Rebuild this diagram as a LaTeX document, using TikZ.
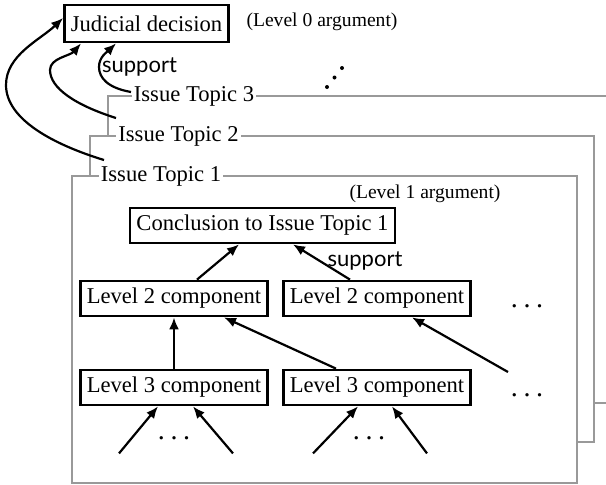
\documentclass[tikz,border=0pt]{standalone}
\usepackage{fontspec}
\setmainfont{Liberation Serif}
\newfontfamily\labelfont{Lato}
\usetikzlibrary{arrows.meta,calc}

\begin{document}
\begin{tikzpicture}[x=0.5pt,y=-0.5pt,
  box/.style={draw,line width=1.4pt,inner xsep=3.2pt,minimum height=17.5pt,font=\fontsize{11.3}{13}\selectfont},
  topic/.style={fill=white,inner sep=1pt,font=\fontsize{11.3}{13}\selectfont},
  issueframe/.style={draw=black!40,fill=white,line width=1pt},
  levelnote/.style={font=\fontsize{9.8}{12}\selectfont},
  supportlbl/.style={font=\labelfont\fontsize{11}{13}\selectfont},
  dotrow/.style={anchor=base,inner sep=0pt,font=\fontsize{14}{16}\selectfont},
  arr/.style={-{Latex[length=6pt,width=5pt]},line width=1.1pt}]
\useasboundingbox (0,0) rectangle (606,484);

% the issue frames, back to front
\draw[issueframe] (108,96) rectangle (614,403);
\draw[issueframe] (90,136) rectangle (594,442);
\draw[issueframe] (72,176) rectangle (577,483);
\node[topic] (topic3) at (194,96) {Issue Topic 3};
\node[topic] (topic2) at (178.5,136) {Issue Topic 2};
\node[topic] (topic1) at (161,176) {Issue Topic 1};

% level 0
\node[box,minimum height=18.5pt] (judicial) at (146.5,23.5) {Judicial decision};
\node[levelnote] (level0) at (322,22) {(Level 0 argument)};
\foreach \x/\y in {327/87,334.5/77.5,342/68} \fill (\x,\y) circle[radius=2];

\coordinate (from1) at (104,160);
\coordinate (from2) at (116,118);
\coordinate (from3) at (131,92);
\draw[arr] (from1) .. controls (55,145) and (6,120) .. (6,85) .. controls (6,55) and (40,40) .. ($(judicial.west)+(0,-5.5)$);
\draw[arr] (from2) .. controls (75,105) and (50,88) .. (50,70) .. controls (50,58) and (70,56) .. ($(judicial.south)+(-65.5,0)$);
\draw[arr] (from3) .. controls (108,88) and (99,78) .. (99,67) .. controls (99,57) and (107,52) .. ($(judicial.south)+(-30.5,0)$);
\node[supportlbl] (support0) at (139.5,67) {support};

% level 1 argument
\node[levelnote] (level1) at (425,194) {(Level 1 argument)};
\node[box] (concl) at (262.5,225.5) {Conclusion to Issue Topic 1};
\node[box] (comp2a) at (174,298.5) {Level 2 component};
\node[box] (comp2b) at (377,298.5) {Level 2 component};
\node[box] (comp3a) at (174,387.5) {Level 3 component};
\node[box] (comp3b) at (377,387.5) {Level 3 component};
\node[dotrow] (more2) at (527,307) {.\kern2.8pt.\kern2.8pt.};
\node[dotrow] (more3) at (527,396) {.\kern2.8pt.\kern2.8pt.};
\node[dotrow] (more4a) at (174,439) {.\kern2.8pt.\kern2.8pt.};
\node[dotrow] (more4b) at (369,439) {.\kern2.8pt.\kern2.8pt.};

\draw[arr] ($(comp2a.north)+(23,0)$) -- ($(concl.south)+(-23.5,0)$);
\draw[arr] ($(comp2b.north)+(-27,0)$) -- ($(concl.south)+(30.5,0)$);
\node[supportlbl] (support1) at (365,261) {support};
\draw[arr] (comp3a) -- (comp2a);
\draw[arr] ($(comp3b.north)+(-41,0)$) -- ($(comp2a.south)+(50,0)$);
\coordinate (from2b) at (508,372);
\draw[arr] (from2b) -- ($(comp2b.south)+(35,0)$);
\foreach \n/\a/\b in {comp3a/-55/-16,comp3a/59/19,comp3b/-64/-19,comp3b/50/15}
  \draw[arr] ($(\n.south)+(\a,47)$) -- ($(\n.south)+(\b,0)$);
\end{tikzpicture}
\end{document}
